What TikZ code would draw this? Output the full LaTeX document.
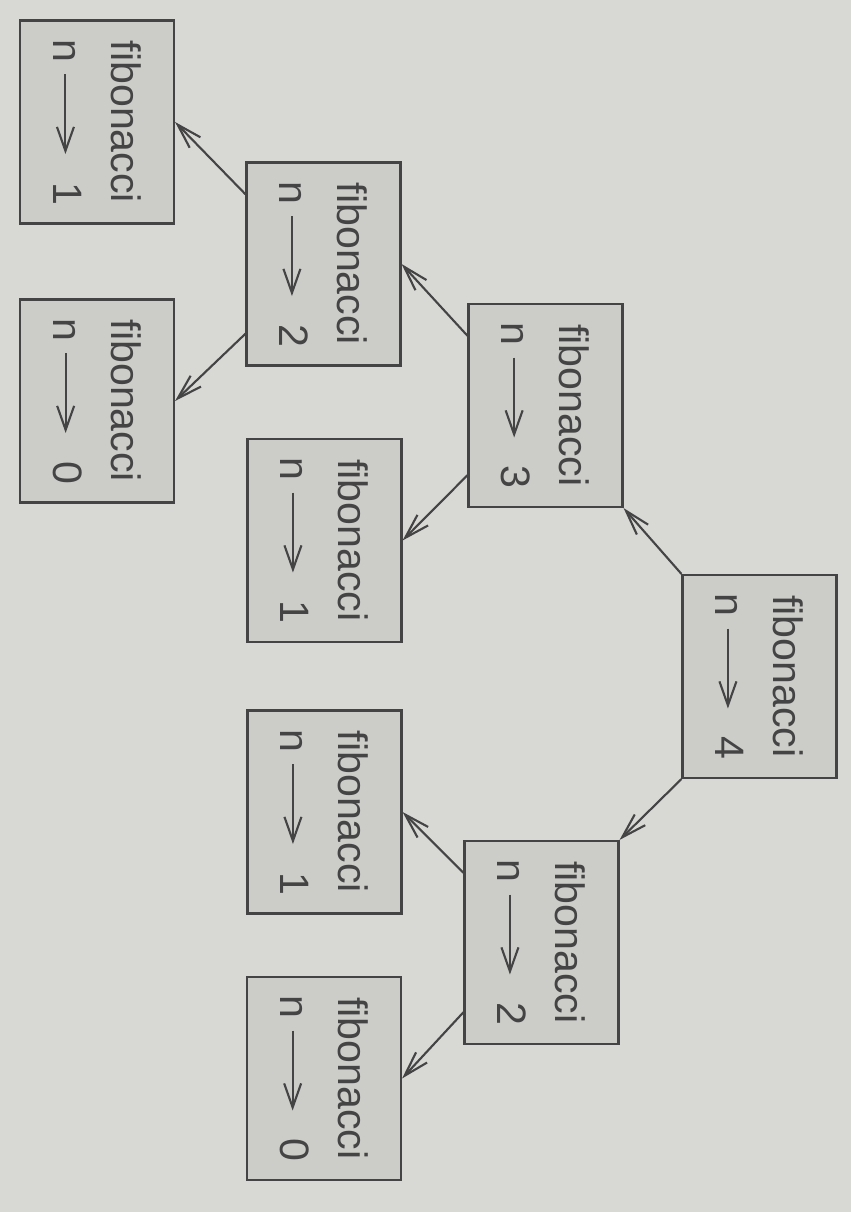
\documentclass[tikz,border=0pt]{standalone}
\usepackage{fontspec}
\setmainfont{Liberation Sans}
\usetikzlibrary{arrows.meta,calc}
\definecolor{paper}{RGB}{216,216,213}
\definecolor{boxgray}{RGB}{204,204,201}
\definecolor{inkgray}{RGB}{68,68,68}
\newcommand{\callarrow}{\tikz[baseline=-0.3em]\draw[inkgray, line width=0.6pt, -{Straight Barb[length=2.4mm,width=1.7mm]}] (0,0) -- (0.8,0);}

\begin{document}
\begin{tikzpicture}[
  callbox/.style={draw=inkgray, line width=0.6pt, fill=boxgray, rotate=-90,
    minimum width=2.03cm, minimum height=1.54cm, inner sep=0pt,
    align=center, text=inkgray, font=\fontsize{11.7}{16.5}\selectfont},
  callline/.style={inkgray, line width=0.6pt, -{Straight Barb[length=2.5mm,width=1.5mm]}}]
% Paper
\fill[paper] (0,0) rectangle (8.51,12.12);
\useasboundingbox (0,0) rectangle (8.51,12.12);
% Calls, one box each
\node[callbox] (fibfour) at (7.595,5.355) {fibonacci\\n\hspace{0.11cm}\callarrow\hspace{0.25cm}4};
\node[callbox] (fibthree) at (5.455,8.065) {fibonacci\\n\hspace{0.11cm}\callarrow\hspace{0.25cm}3};
\node[callbox] (fibtwoR) at (5.415,2.695) {fibonacci\\n\hspace{0.11cm}\callarrow\hspace{0.25cm}2};
\node[callbox] (fibtwoL) at (3.235,9.48) {fibonacci\\n\hspace{0.11cm}\callarrow\hspace{0.25cm}2};
\node[callbox] (fiboneM) at (3.245,6.715) {fibonacci\\n\hspace{0.11cm}\callarrow\hspace{0.25cm}1};
\node[callbox] (fiboneR) at (3.245,4.0) {fibonacci\\n\hspace{0.11cm}\callarrow\hspace{0.25cm}1};
\node[callbox] (fibzeroR) at (3.24,1.335) {fibonacci\\n\hspace{0.11cm}\callarrow\hspace{0.25cm}0};
\node[callbox] (fiboneL) at (0.97,10.9) {fibonacci\\n\hspace{0.11cm}\callarrow\hspace{0.25cm}1};
\node[callbox] (fibzeroL) at (0.97,8.11) {fibonacci\\n\hspace{0.11cm}\callarrow\hspace{0.25cm}0};
% Calls from fibonacci(4)
\draw[callline] (fibfour.south west) -- (fibthree.north east);
\draw[callline] (fibfour.south east) -- (fibtwoR.north west);
% Calls from fibonacci(3)
\draw[callline] ($(fibthree.south west)!0.16!(fibthree.south east)$) -- (fibtwoL.north);
\draw[callline] ($(fibthree.south east)!0.16!(fibthree.south west)$) -- (fiboneM.north);
% Calls from the two fibonacci(2)
\draw[callline] ($(fibtwoL.south west)!0.16!(fibtwoL.south east)$) -- (fiboneL.north);
\draw[callline] ($(fibtwoL.south east)!0.16!(fibtwoL.south west)$) -- (fibzeroL.north);
\draw[callline] ($(fibtwoR.south west)!0.16!(fibtwoR.south east)$) -- (fiboneR.north);
\draw[callline] ($(fibtwoR.south east)!0.16!(fibtwoR.south west)$) -- (fibzeroR.north);
\end{tikzpicture}
\end{document}
